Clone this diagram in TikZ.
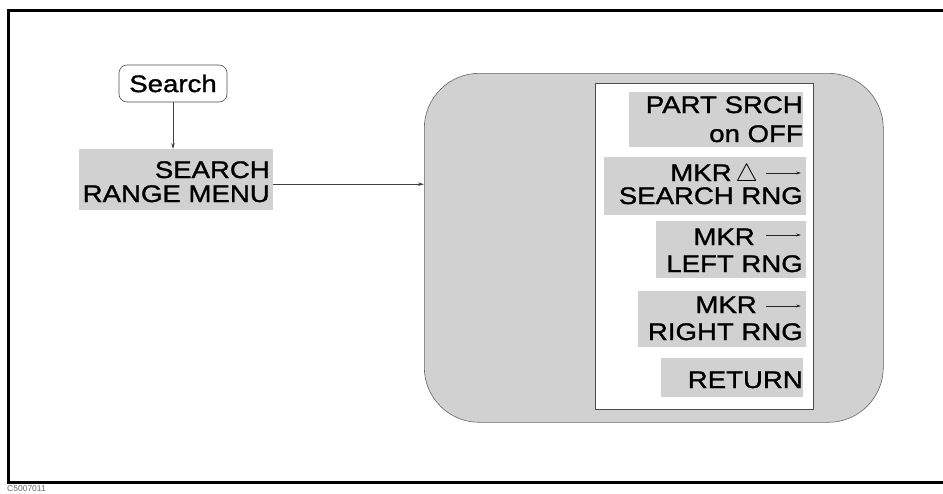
\documentclass[tikz,border=0pt]{standalone}
\usepackage{fontspec}
\setmainfont{Liberation Sans}[FakeStretch=1.15,FakeBold=1.2]
\newfontfamily\capfont{Liberation Sans}
\usetikzlibrary{arrows.meta}
\begin{document}
\begin{tikzpicture}[x=1pt,y=-1pt,
  lbl/.style={font=\fontsize{24}{26}\selectfont, inner sep=0pt, anchor=base east},
  shadebox/.style={fill=black!18, draw=none, inner sep=0pt, anchor=north west},
  conn/.style={draw=black!75, line width=0.7pt, -{Stealth[length=6pt,width=3.5pt]}},
  mkarrow/.style={draw=black!85, line width=0.6pt, -{Stealth[length=5pt,width=3pt]}}]
\useasboundingbox (0,0) rectangle (943,493);
\draw[line width=3pt] (943,10) -- (8,10) -- (8,482) -- (943,482);
\node[font=\capfont\fontsize{8.5}{9}\selectfont, text=black!60, anchor=base west, inner sep=0pt] (code) at (7,491.5) {C5007011};
% Search key
\node[draw=black!70, rounded corners=8pt, minimum width=108pt, minimum height=37pt, inner sep=0pt, line width=0.6pt, font=\fontsize{24}{26}\selectfont] (search) at (173,83.5) {Search};
% Search range menu block
\node[shadebox, minimum width=194pt, minimum height=61pt] (srm) at (79,149) {};
\node[lbl] (srm1) at (270,178) {SEARCH};
\node[lbl] (srm2) at (270,202) {RANGE MENU};
% panel
\node[shadebox, draw=black!60, line width=0.6pt, rounded corners=55pt, minimum width=459pt, minimum height=349pt] (panel) at (424,73) {};
\node[anchor=north west, fill=white, draw=black!70, line width=0.6pt, inner sep=0pt, minimum width=218pt, minimum height=326pt] (inner) at (595,83) {};
% connectors
\draw[conn] (search.south) -- (search.south |- srm.north);
\draw[conn] ([yshift=-4.5pt]srm.east) -- ([yshift=-4.5pt]srm.east -| panel.west);
% softkeys
\node[shadebox, minimum width=174pt, minimum height=55pt] (k1) at (629,92) {};
\node[shadebox, minimum width=202pt, minimum height=58pt] (k2) at (604,157) {};
\node[shadebox, minimum width=150pt, minimum height=57pt] (k3) at (656,221) {};
\node[shadebox, minimum width=168pt, minimum height=56pt] (k4) at (638,291) {};
\node[shadebox, minimum width=142pt, minimum height=39pt] (k5) at (661,358) {};
\node[lbl] (k1a) at (803,113) {PART SRCH};
\node[lbl] (k1b) at (803,142) {on OFF};
\node[lbl] (k2a) at (758,181) {MKR\,$\triangle$};
\node[lbl] (k2b) at (803,204) {SEARCH RNG};
\node[lbl] (k3a) at (755,245) {MKR};
\node[lbl] (k3b) at (803,272) {LEFT RNG};
\node[lbl] (k4a) at (757,313) {MKR};
\node[lbl] (k4b) at (803,340) {RIGHT RNG};
\node[lbl] (k5a) at (803,388) {RETURN};
\coordinate (a2s) at (766,173); \coordinate (a2e) at (801,173);
\coordinate (a3s) at (766,235); \coordinate (a3e) at (801,235);
\coordinate (a4s) at (766,306); \coordinate (a4e) at (801,306);
\draw[mkarrow] (a2s) -- (a2e);
\draw[mkarrow] (a3s) -- (a3e);
\draw[mkarrow] (a4s) -- (a4e);
\end{tikzpicture}
\end{document}
